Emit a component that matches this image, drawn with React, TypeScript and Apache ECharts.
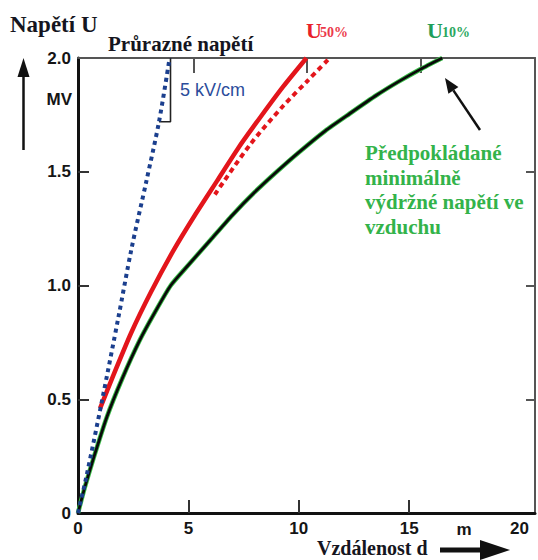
import React, { useEffect, useRef } from "react";
import * as echarts from "echarts";

// ---- data ----
const xTickLabels = [0, 5, 10, 15, 20];
const xTickMarks = [5, 10, 15];
const topTickMarks = [5.25, 10.38, 15.54];
const yTickMarks = [0.5, 1.0, 1.5];

// "Průrazné napětí" – 5 kV/cm breakdown line (dotted blue)
const breakdownDist = [0, 0.38, 1.1, 1.83, 2.42, 3.1, 3.67, 4.15];
const breakdownVolt = [0, 0.16, 0.5, 0.86, 1.16, 1.46, 1.72, 2.0];

// U50% solid red
const u50Dist = [1.0, 1.6, 2.4, 3.3, 4.3, 5.3, 6.3, 7.3, 8.3, 9.3, 10.35];
const u50Volt = [0.46, 0.605, 0.79, 0.97, 1.15, 1.31, 1.46, 1.61, 1.745, 1.875, 2.0];

// U50% extrapolated dashed red
const u50ExtDist = [6.2, 7.8, 9.3, 10.4, 11.4];
const u50ExtVolt = [1.4, 1.62, 1.79, 1.9, 2.0];

// U10% (black/green)
const u10Dist = [0, 0.3, 0.7, 1.3, 2.0, 2.8, 3.5, 4.2, 5.0, 6.0, 7.0, 8.0, 9.0, 10, 11.2, 12.3, 13.5, 14.5, 15.5, 16.5];
const u10Volt = [0, 0.11, 0.24, 0.42, 0.59, 0.76, 0.885, 1.0, 1.09, 1.2, 1.31, 1.41, 1.5, 1.585, 1.68, 1.755, 1.835, 1.895, 1.95, 2.0];

// slope bracket "5 kV/cm"
const bracketDist = [3.67, 4.19, 4.19];
const bracketVolt = [1.72, 1.72, 2.0];

const pairs = (xs: number[], ys: number[]) => xs.map((x, i) => [x, ys[i]]);

const SERIF = '"Liberation Serif", "Times New Roman", serif';
const SANS = '"Liberation Sans", Arial, sans-serif';

export default function App() {
  const ref = useRef<HTMLDivElement>(null);
  useEffect(() => {
    if (!ref.current) return;
    const chart = echarts.init(ref.current, null, { renderer: "svg" });
    const tickLabel = {
      fontSize: 17,
      fontWeight: "bold" as const,
      color: "#151515",
      fontFamily: SANS,
    };
    chart.setOption({
      animation: false,
      grid: { left: 78, right: 3, top: 58, bottom: 47 },
      xAxis: [
        {
          type: "value",
          position: "bottom",
          min: 0,
          max: 20.7,
          axisLine: { show: true, onZero: false, lineStyle: { color: "#111", width: 3 } },
          axisTick: {
            show: true,
            inside: true,
            length: 13,
            customValues: xTickMarks,
            lineStyle: { color: "#333", width: 2 },
          },
          axisLabel: { ...tickLabel, margin: 7, customValues: xTickLabels },
          splitLine: { show: false },
        },
        {
          type: "value",
          position: "top",
          min: 0,
          max: 20.7,
          axisLine: { show: true, onZero: false, lineStyle: { color: "#555", width: 2 } },
          axisTick: {
            show: true,
            inside: true,
            length: 15,
            customValues: topTickMarks,
            lineStyle: { color: "#555", width: 2 },
          },
          axisLabel: { show: false },
          splitLine: { show: false },
        },
      ],
      yAxis: [
        {
          type: "value",
          position: "left",
          min: 0,
          max: 2,
          interval: 0.5,
          axisLine: { show: true, onZero: false, lineStyle: { color: "#111", width: 3 } },
          axisTick: {
            show: true,
            inside: true,
            length: 11,
            customValues: yTickMarks,
            lineStyle: { color: "#333", width: 2 },
          },
          axisLabel: {
            ...tickLabel,
            margin: 7,
            formatter: (v: number) => (v === 0 ? "0" : v.toFixed(1)),
          },
          splitLine: { show: false },
        },
        {
          type: "value",
          position: "right",
          min: 0,
          max: 2,
          interval: 0.5,
          axisLine: { show: true, onZero: false, lineStyle: { color: "#555", width: 2 } },
          axisTick: {
            show: true,
            inside: true,
            length: 9,
            customValues: yTickMarks,
            lineStyle: { color: "#555", width: 2 },
          },
          axisLabel: { show: false },
          splitLine: { show: false },
        },
      ],
      series: [
        {
          name: "U10 outline",
          type: "line",
          data: pairs(u10Dist, u10Volt),
          smooth: 0.2,
          showSymbol: false,
          lineStyle: { color: "#3cc04a", width: 4.6 },
          z: 2,
        },
        {
          name: "U10%",
          type: "line",
          data: pairs(u10Dist, u10Volt),
          smooth: 0.2,
          showSymbol: false,
          lineStyle: { color: "#0a0a0a", width: 2.8 },
          z: 3,
        },
        {
          name: "U50% ext",
          type: "line",
          data: pairs(u50ExtDist, u50ExtVolt),
          smooth: 0.3,
          showSymbol: false,
          lineStyle: { color: "#e3151b", width: 4, type: [5, 4] },
          z: 3,
        },
        {
          name: "U50%",
          type: "line",
          data: pairs(u50Dist, u50Volt),
          smooth: 0.2,
          showSymbol: false,
          lineStyle: { color: "#e3151b", width: 4.5 },
          z: 4,
        },
        {
          name: "Průrazné napětí",
          type: "line",
          data: pairs(breakdownDist, breakdownVolt),
          smooth: 0.3,
          showSymbol: false,
          lineStyle: { color: "#1b3f8e", width: 4, type: [4, 4] },
          z: 5,
        },
        {
          name: "bracket",
          type: "line",
          data: pairs(bracketDist, bracketVolt),
          showSymbol: false,
          lineStyle: { color: "#222", width: 1.6 },
          z: 4,
        },
      ],
      graphic: [
        // y-axis title and arrow
        { type: "text", x: 10, y: 24, style: { text: "Napětí U", font: `bold 23px ${SERIF}`, fill: "#151520", textVerticalAlign: "middle" } },
        { type: "line", shape: { x1: 23.5, y1: 150, x2: 23.5, y2: 74 }, style: { stroke: "#111", lineWidth: 2.5 } },
        { type: "polygon", shape: { points: [[17.5, 77], [23.5, 58], [29.5, 77]] }, style: { fill: "#111" } },
        { type: "text", x: 72, y: 99, style: { text: "MV", font: `bold 17px ${SANS}`, fill: "#151515", textAlign: "right", textVerticalAlign: "middle" } },
        // series titles
        { type: "text", x: 108, y: 44, style: { text: "Průrazné napětí", font: `bold 21px ${SERIF}`, fill: "#151520", textVerticalAlign: "middle" } },
        { type: "text", x: 180, y: 90, style: { text: "5 kV/cm", font: `18px ${SANS}`, fill: "#2b4c9b", textVerticalAlign: "middle" } },
        { type: "text", x: 306, y: 30, style: { text: "U", font: `bold 22px ${SERIF}`, fill: "#e8202a", textVerticalAlign: "middle" } },
        { type: "text", x: 320, y: 32.5, style: { text: "50%", font: `bold 14px ${SERIF}`, fill: "#ec3a4a", textVerticalAlign: "middle" } },
        { type: "text", x: 427, y: 30, style: { text: "U", font: `bold 22px ${SERIF}`, fill: "#1f9e5a", textVerticalAlign: "middle" } },
        { type: "text", x: 442, y: 32.5, style: { text: "10%", font: `bold 14px ${SERIF}`, fill: "#2aa860", textVerticalAlign: "middle" } },
        // annotation
        {
          type: "text",
          x: 365,
          y: 141,
          style: {
            text: "Předpokládané\nminimálně\nvýdržné napětí ve\nvzduchu",
            font: `bold 21px ${SERIF}`,
            lineHeight: 24.5,
            fill: "#33b34a",
            textVerticalAlign: "top",
          },
        },
        { type: "line", shape: { x1: 480, y1: 130, x2: 453.4, y2: 90.4 }, style: { stroke: "#111", lineWidth: 2.5 } },
        { type: "polygon", shape: { points: [[445, 78], [458.4, 87.0], [448.4, 93.7]] }, style: { fill: "#111" } },
        // x-axis unit and title
        { type: "text", x: 464, y: 529, style: { text: "m", font: `bold 17px ${SANS}`, fill: "#151515", textAlign: "center", textVerticalAlign: "middle" } },
        { type: "text", x: 317, y: 548, style: { text: "Vzdálenost d", font: `bold 20px ${SERIF}`, fill: "#151520", textVerticalAlign: "middle" } },
        { type: "line", shape: { x1: 440, y1: 550, x2: 484, y2: 550 }, style: { stroke: "#111", lineWidth: 5 } },
        { type: "polygon", shape: { points: [[480, 540], [510, 550], [480, 560]] }, style: { fill: "#111" } },
      ],
    });
    return () => chart.dispose();
  }, []);
  return (
    <div
      ref={ref}
      style={{ position: "fixed", left: 0, top: 0, width: 538, height: 560, background: "#fff" }}
    />
  );
}
